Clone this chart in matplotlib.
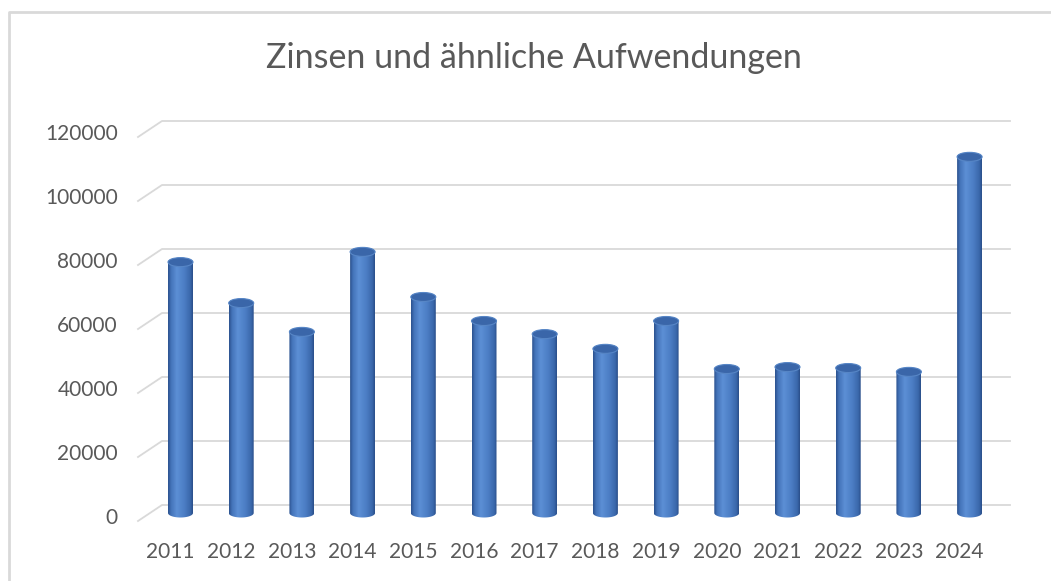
#!/usr/bin/env python
"""
Zinsen und aehnliche Aufwendungen - column chart in the style of an Excel 3D cylinder chart
"""
import numpy as np
import matplotlib
matplotlib.use("Agg")
import matplotlib.pyplot as plt
from matplotlib.patches import Ellipse, PathPatch
from matplotlib.path import Path
from matplotlib.colors import LinearSegmentedColormap
from matplotlib.lines import Line2D

plt.rcParams.update({'font.family': ['Lato', 'DejaVu Sans']})

# Data
years = ['2011', '2012', '2013', '2014', '2015', '2016', '2017',
         '2018', '2019', '2020', '2021', '2022', '2023', '2024']
values = [78400, 65600, 56600, 81600, 67500, 60000, 55900,
          51300, 60000, 45000, 45600, 45300, 44100, 111300]
yticks = [0, 20000, 40000, 60000, 80000, 100000, 120000]
title = 'Zinsen und ähnliche Aufwendungen'

W, H, DPI = 1051, 581, 100
fig = plt.figure(figsize=(W / DPI, H / DPI), dpi=DPI)
fig.patch.set_facecolor('white')

# pixel layout of the plot (measured from top left)
zero_px = 513.0          # value 0 at middle depth
px_per_unit = 384.0 / 120000
step_px = 60.7           # distance between bars
x0_px = 180.5            # centre of first bar
ymin, ymax = -10000, 125000
left_px = x0_px - 0.5 * step_px
right_px = left_px + 14 * step_px
top_px = zero_px - ymax * px_per_unit
bot_px = zero_px - ymin * px_per_unit
ax = fig.add_axes([left_px / W, 1 - bot_px / H, (right_px - left_px) / W, (bot_px - top_px) / H])
ax.set_xlim(-0.5, 13.5)
ax.set_ylim(ymin, ymax)
ax.axis('off')

def xd(px):
    return (px - left_px) / step_px - 0.5

depth = 8.0 / px_per_unit   # half depth of the 3D floor in value units

# back wall gridlines with the left side diagonal
grid_col = '#d9d9d9'
for v in yticks:
    ax.plot([xd(138), xd(162), xd(1010)], [v - depth, v + depth, v + depth],
            color=grid_col, lw=1.3, clip_on=False, zorder=1)
    ax.text(xd(118), v - depth + 900, str(v), ha='right', va='center',
            fontsize=15, color='#595959')

for i, yr in enumerate(years):
    ax.text(i - 10 / step_px, (zero_px - 552) / px_per_unit, yr, ha='center',
            va='center', fontsize=15, color='#595959')

# cylinders
cmap = LinearSegmentedColormap.from_list('cyl', [
    (0.0, '#2c528f'), (0.12, '#4474ba'), (0.35, '#5c8fd5'),
    (0.65, '#4c7ec5'), (0.9, '#3a68ab'), (1.0, '#2a4f8a')])
bw = 25.0 / step_px
eh = 9.0 / px_per_unit
grad = np.linspace(0, 1, 64).reshape(1, -1)
t = np.linspace(np.pi, 2 * np.pi, 40)
for i, v in enumerate(values):
    xl, xr = i - bw / 2, i + bw / 2
    bottom = list(zip(i + bw / 2 * np.cos(t), 0 + eh / 2 * np.sin(t)))
    top = list(zip(i + bw / 2 * np.cos(t[::-1] - np.pi), v + eh / 2 * np.sin(t[::-1] - np.pi)))
    verts = [(xl, v)] + bottom + [(xr, v)] + top
    verts.append(verts[0])
    codes = [Path.MOVETO] + [Path.LINETO] * (len(verts) - 2) + [Path.CLOSEPOLY]
    body = PathPatch(Path(verts, codes), facecolor='none', edgecolor='none')
    ax.add_patch(body)
    im = ax.imshow(grad, cmap=cmap, aspect='auto', extent=(xl, xr, -eh, v + eh),
                   zorder=3, interpolation='bilinear')
    im.set_clip_path(body)
    ax.add_patch(Ellipse((i, v), bw, eh, facecolor='#3a66a9', edgecolor='#5786c6',
                         lw=0.8, zorder=4, clip_on=False))

ax.set_xlim(-0.5, 13.5)
ax.set_ylim(ymin, ymax)

fig.text(534 / W, 1 - 58 / H, title, ha='center', va='center', fontsize=24.5, color='#595959')

# chart area border (top and left only visible)
fig.add_artist(Line2D([9 / W, 9 / W, 1.0], [0.0, 1 - 12 / H, 1 - 12 / H],
                      transform=fig.transFigure, color='#d9d9d9', lw=2))

plt.savefig('out.png', dpi=DPI)
